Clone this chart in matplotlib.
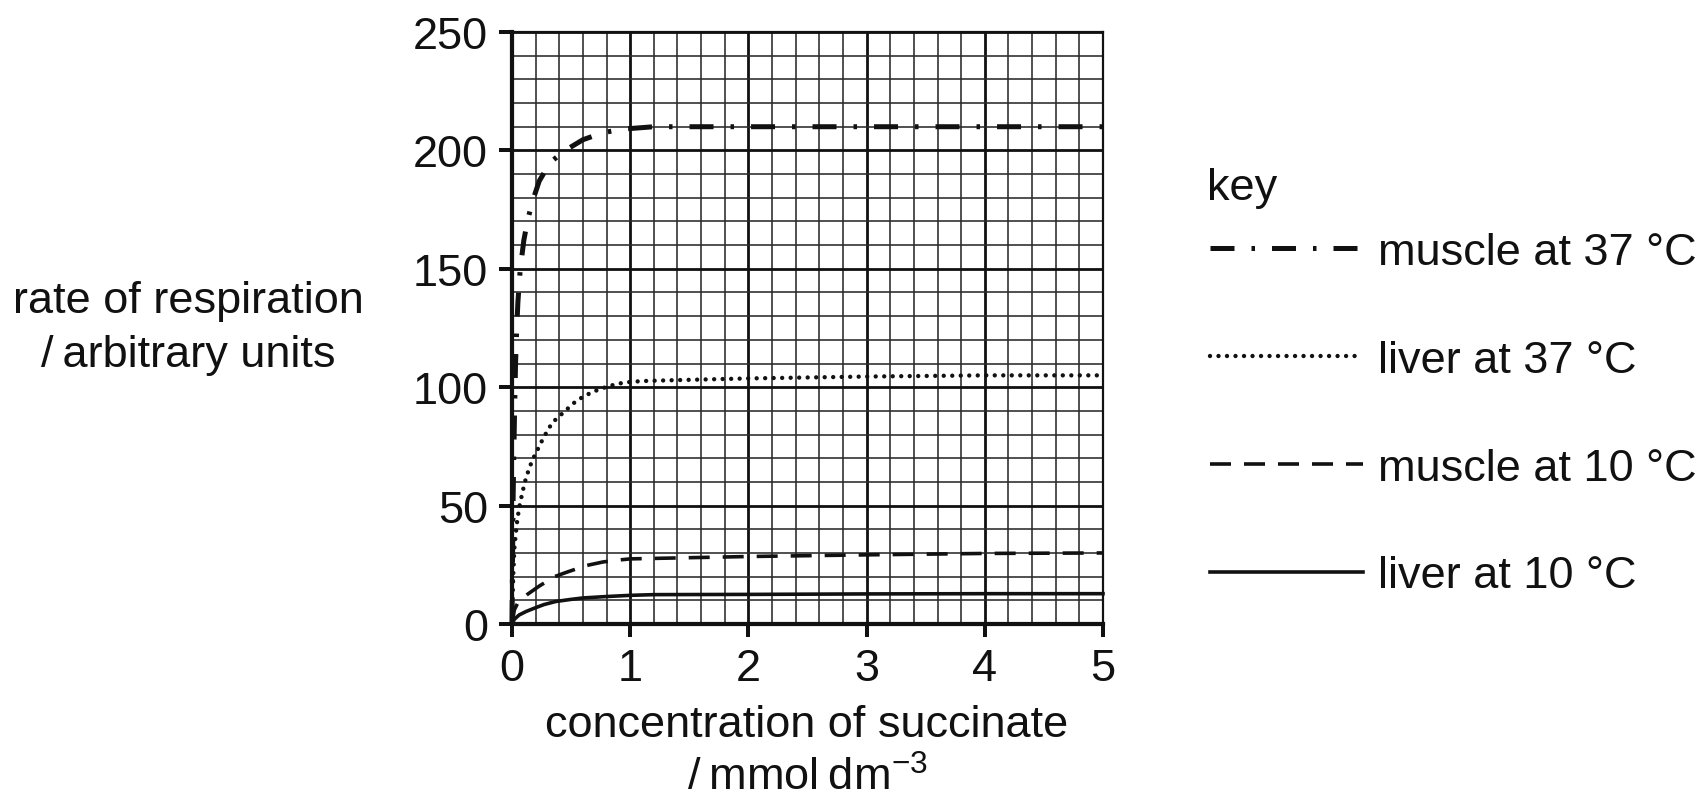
import numpy as np
import matplotlib
matplotlib.use("Agg")
import matplotlib.pyplot as plt
from matplotlib.ticker import MultipleLocator

plt.rcParams['font.family'] = ['Liberation Sans', 'DejaVu Sans']
plt.rcParams['mathtext.fontset'] = 'custom'
plt.rcParams['mathtext.rm'] = 'Liberation Sans'
plt.rcParams['mathtext.it'] = 'Liberation Sans'

# values
muscle37_x = [0, 0.005, 0.01, 0.02, 0.03, 0.04, 0.05, 0.07, 0.1, 0.13, 0.17,
              0.23, 0.3, 0.35, 0.45, 0.6, 0.77, 0.94, 1.2, 2, 3, 4, 5]
muscle37_y = [0, 30, 55, 85, 110, 125, 136, 150, 162, 170, 178,
              187, 193, 196, 200, 204.5, 207.5, 209, 210, 210, 210, 210, 210]

liver37_x = [0, 0.01, 0.02, 0.04, 0.06, 0.09, 0.12, 0.17, 0.21, 0.27, 0.34,
             0.45, 0.55, 0.68, 0.82, 0.95, 1.1, 1.4, 2, 3, 4, 5]
liver37_y = [0, 20, 32, 42, 49, 56, 62, 69, 73, 79, 85,
             90, 94.5, 98, 100.5, 102, 102.6, 103, 103.7, 104.5, 105, 105]

muscle10_x = [0, 0.02, 0.05, 0.13, 0.23, 0.36, 0.47, 0.63, 0.77, 0.9, 1.0,
              1.3, 2, 3, 4, 5]
muscle10_y = [0, 6, 9, 12.5, 16, 20, 22, 24.7, 26.2, 27, 27.5,
              27.8, 28.5, 29.2, 29.8, 30]

liver10_x = [0, 0.02, 0.06, 0.12, 0.18, 0.27, 0.37, 0.5, 0.6, 0.8, 1.0,
             1.2, 2, 3, 4, 5]
liver10_y = [0, 2, 3.8, 5.3, 6.5, 8.2, 9.5, 10.4, 11, 11.6, 12.1,
             12.4, 12.5, 12.7, 12.8, 12.8]

labels = ['muscle at 37 °C', 'liver at 37 °C', 'muscle at 10 °C', 'liver at 10 °C']
x_ticks = [0, 1, 2, 3, 4, 5]
y_ticks = [0, 50, 100, 150, 200, 250]

FS = 32.5
PX = 72 / 100  # points per pixel
INK = '#111'

fig = plt.figure(figsize=(17.04, 8.04), dpi=100)
ax = fig.add_axes([512 / 1704, 1 - 625 / 804, 591 / 1704, 592 / 804])

ax.set_xlim(0, 5)
ax.set_ylim(0, 250)
ax.set_xticks(x_ticks)
ax.set_yticks(y_ticks)
ax.xaxis.set_minor_locator(MultipleLocator(0.2))
ax.yaxis.set_minor_locator(MultipleLocator(10))
ax.grid(which='major', color='#111', lw=2.8 * PX, zorder=1)
ax.grid(which='minor', color='#2a2a2a', lw=1.6 * PX, zorder=1)
ax.set_axisbelow(True)

ax.tick_params(which='major', direction='out', length=13 * PX, width=4 * PX,
               labelsize=FS, pad=11 * PX, color=INK, labelcolor=INK)
ax.tick_params(which='minor', length=0)
for side in ['left', 'bottom']:
    ax.spines[side].set_linewidth(4.2 * PX)
    ax.spines[side].set_color(INK)
for side in ['top', 'right']:
    ax.spines[side].set_linewidth(2.2 * PX)
    ax.spines[side].set_color(INK)

lw_dd = 5 * PX
lw_dot = 4.4 * PX
lw_dash = 3.6 * PX
lw_solid = 3.6 * PX
l1, = ax.plot(muscle37_x, muscle37_y, color=INK, lw=lw_dd,
              dashes=(24 * PX / lw_dd, 17 * PX / lw_dd,
                      3.5 * PX / lw_dd, 17 * PX / lw_dd),
              dash_capstyle='butt', clip_on=False, zorder=3, label=labels[0])
l2, = ax.plot(liver37_x, liver37_y, color=INK, lw=lw_dot,
              dashes=(0.001, 8.5 * PX / lw_dot),
              dash_capstyle='round', clip_on=False, zorder=3, label=labels[1])
l3, = ax.plot(muscle10_x, muscle10_y, color=INK, lw=lw_dash,
              dashes=(21 * PX / lw_dash, 13 * PX / lw_dash),
              dash_capstyle='butt', clip_on=False, zorder=3, label=labels[2])
l4, = ax.plot(liver10_x, liver10_y, color=INK, lw=lw_solid,
              clip_on=False, zorder=3, label=labels[3])

# axis labels (horizontal, as in the reference)
fig.text(188 / 1704, 1 - 313 / 804, 'rate of respiration', fontsize=FS,
         ha='center', va='baseline', color=INK)
fig.text(188 / 1704, 1 - 367 / 804, '/\u2009arbitrary units', fontsize=FS,
         ha='center', va='baseline', color=INK)
fig.text(807 / 1704, 1 - 737 / 804, 'concentration of succinate', fontsize=FS,
         ha='center', va='baseline', color=INK)
fig.text(807 / 1704, 1 - 791 / 804, '/\u2009mmol\u2009dm$^{\u22123}$', fontsize=FS,
         ha='center', va='baseline', color=INK)

# key
fig.text(1207 / 1704, 1 - 200 / 804, 'key', fontsize=FS, ha='left',
         va='baseline', color=INK)
leg = fig.legend(handles=[l1, l2, l3, l4], loc='upper left',
                 bbox_to_anchor=(1210 / 1704, 1 - 233 / 804),
                 frameon=False, fontsize=FS, handlelength=3.4,
                 handletextpad=0.33, labelspacing=1.48, borderpad=0,
                 borderaxespad=0)
for t in leg.get_texts():
    t.set_color(INK)

fig.savefig('out.png', dpi=100)
